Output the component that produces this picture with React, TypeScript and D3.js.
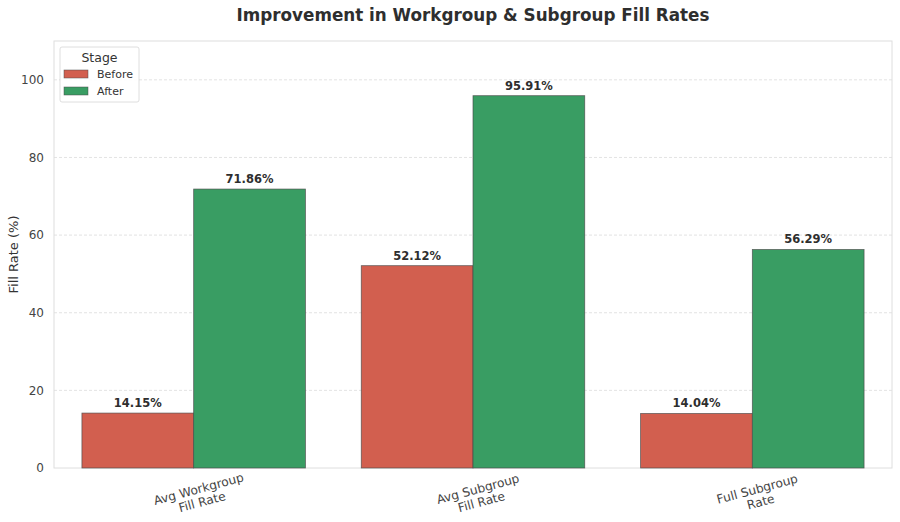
import * as d3 from 'd3';
import { useEffect, useRef } from 'react';

const categories = ['Avg Workgroup\nFill Rate', 'Avg Subgroup\nFill Rate', 'Full Subgroup\nRate'];
const stages = ['Before', 'After'];
const beforeValues = [14.15, 52.12, 14.04];
const afterValues = [71.86, 95.91, 56.29];
const yTicks = [0, 20, 40, 60, 80, 100];

const colors: Record<string, string> = { Before: '#d25f4f', After: '#399d63' };
const FONT = '"DejaVu Sans", sans-serif';

const App = () => {
  const svgRef = useRef<SVGSVGElement>(null);

  useEffect(() => {
    if (!svgRef.current) return;
    const svg = d3.select(svgRef.current);
    svg.selectAll('*').remove();

    const width = 900;
    const height = 522;
    const margin = { top: 41, right: 8, bottom: 54, left: 54 };
    const innerW = width - margin.left - margin.right;
    const innerH = height - margin.top - margin.bottom;

    svg.attr('viewBox', `0 0 ${width} ${height}`);
    svg.append('rect').attr('width', width).attr('height', height).attr('fill', '#fff');

    const x = d3.scaleBand<string>().domain(categories).range([0, innerW]).padding(0);
    const sub = d3
      .scaleBand<string>()
      .domain(stages)
      .range([x.bandwidth() * 0.1, x.bandwidth() * 0.9])
      .padding(0);
    const y = d3.scaleLinear().domain([0, 110]).range([innerH, 0]);

    const g = svg.append('g').attr('transform', `translate(${margin.left},${margin.top})`);

    // grid
    g.append('g')
      .selectAll('line')
      .data(yTicks.slice(1))
      .join('line')
      .attr('x1', 0)
      .attr('x2', innerW)
      .attr('y1', (d) => y(d))
      .attr('y2', (d) => y(d))
      .attr('stroke', '#dcdcdc')
      .attr('stroke-width', 0.8)
      .attr('stroke-dasharray', '3,2');

    // frame
    g.append('rect')
      .attr('width', innerW)
      .attr('height', innerH)
      .attr('fill', 'none')
      .attr('stroke', '#dedede')
      .attr('stroke-width', 1);

    const rows = categories.map((c, i) => ({
      cat: c,
      vals: [
        { stage: 'Before', value: beforeValues[i] },
        { stage: 'After', value: afterValues[i] },
      ],
    }));

    const groups = g
      .selectAll('g.grp')
      .data(rows)
      .join('g')
      .attr('class', 'grp')
      .attr('transform', (d) => `translate(${x(d.cat)},0)`);

    groups
      .selectAll('rect')
      .data((d) => d.vals)
      .join('rect')
      .attr('x', (d) => sub(d.stage) ?? 0)
      .attr('width', sub.bandwidth())
      .attr('y', (d) => y(d.value))
      .attr('height', (d) => innerH - y(d.value))
      .attr('fill', (d) => colors[d.stage])
      .attr('stroke', '#4a4a4a')
      .attr('stroke-opacity', 0.8)
      .attr('stroke-width', 0.8);

    groups
      .selectAll('text')
      .data((d) => d.vals)
      .join('text')
      .attr('x', (d) => (sub(d.stage) ?? 0) + sub.bandwidth() / 2)
      .attr('y', (d) => y(d.value) - 6)
      .attr('text-anchor', 'middle')
      .attr('font-family', FONT)
      .attr('font-size', 11.5)
      .attr('font-weight', 700)
      .attr('fill', '#2e2e2e')
      .text((d) => `${d.value.toFixed(2)}%`);

    // y ticks
    g.append('g')
      .selectAll('text')
      .data(yTicks)
      .join('text')
      .attr('x', -10)
      .attr('y', (d) => y(d))
      .attr('dy', '0.35em')
      .attr('text-anchor', 'end')
      .attr('font-family', FONT)
      .attr('font-size', 12)
      .attr('fill', '#444')
      .text((d) => d);

    // x labels, rotated
    categories.forEach((c) => {
      const cx = (x(c) ?? 0) + x.bandwidth() / 2;
      const t = g
        .append('text')
        .attr('transform', `translate(${cx + 6},${innerH + 25}) rotate(-15)`)
        .attr('text-anchor', 'middle')
        .attr('font-family', FONT)
        .attr('font-size', 12.2)
        .attr('fill', '#444');
      c.split('\n').forEach((line, i) => {
        t.append('tspan').attr('x', 0).attr('dy', i === 0 ? 0 : '1.1em').text(line);
      });
    });

    // y label
    svg
      .append('text')
      .attr('transform', `translate(18,${margin.top + innerH / 2}) rotate(-90)`)
      .attr('text-anchor', 'middle')
      .attr('font-family', FONT)
      .attr('font-size', 13)
      .attr('fill', '#333')
      .text('Fill Rate (%)');

    // title
    svg
      .append('text')
      .attr('x', margin.left + innerW / 2)
      .attr('y', 21)
      .attr('text-anchor', 'middle')
      .attr('font-family', FONT)
      .attr('font-size', 16.8)
      .attr('font-weight', 700)
      .attr('fill', '#2e2e2e')
      .text('Improvement in Workgroup & Subgroup Fill Rates');

    // legend
    const lg = g.append('g').attr('transform', 'translate(6,6)');
    lg.append('rect')
      .attr('width', 79)
      .attr('height', 55)
      .attr('rx', 2)
      .attr('fill', '#fff')
      .attr('fill-opacity', 0.9)
      .attr('stroke', '#d6d6d6')
      .attr('stroke-width', 0.8);
    lg.append('text')
      .attr('x', 39.5)
      .attr('y', 15)
      .attr('text-anchor', 'middle')
      .attr('font-family', FONT)
      .attr('font-size', 12.5)
      .attr('fill', '#333')
      .text('Stage');
    stages.forEach((s, i) => {
      const row = lg.append('g').attr('transform', `translate(4,${23 + i * 17})`);
      row.append('rect')
        .attr('width', 24)
        .attr('height', 8)
        .attr('fill', colors[s])
        .attr('stroke', '#4a4a4a')
        .attr('stroke-opacity', 0.8)
        .attr('stroke-width', 0.6);
      row.append('text')
        .attr('x', 33)
        .attr('y', 4)
        .attr('dy', '0.35em')
        .attr('font-family', FONT)
        .attr('font-size', 11)
        .attr('fill', '#333')
        .text(s);
    });
  }, []);

  return (
    <svg
      ref={svgRef}
      width={900}
      height={522}
      style={{ position: 'absolute', top: 0, left: 0, display: 'block' }}
    />
  );
};

export default App;
